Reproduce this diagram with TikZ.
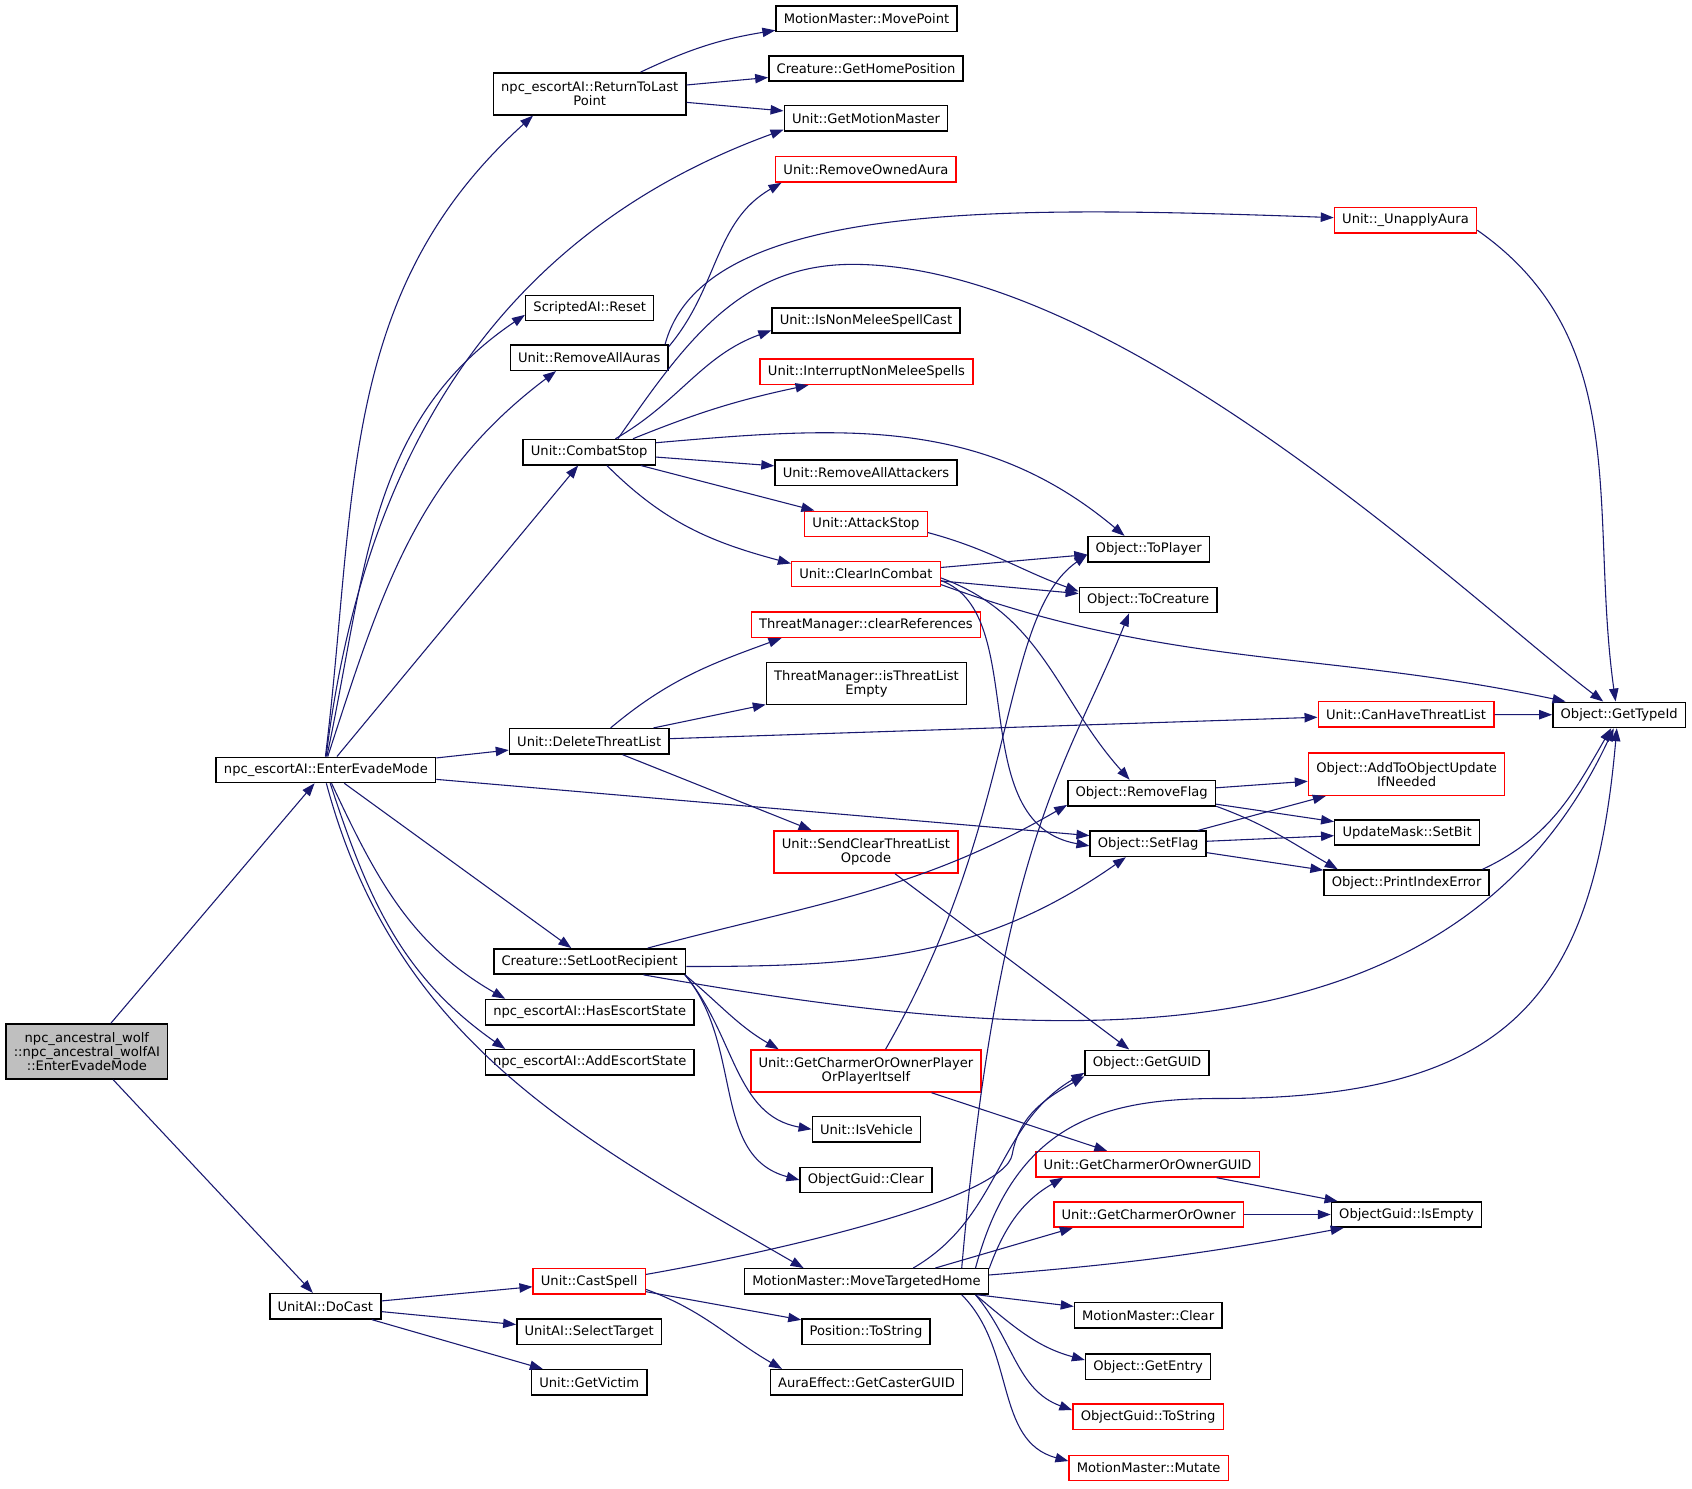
\documentclass[tikz,border=0pt]{standalone}
\usepackage{fontspec}
\newfontfamily\dgfont{DejaVu Sans}
\usetikzlibrary{arrows.meta}
\definecolor{edgeblue}{HTML}{191970}
\definecolor{rootgray}{HTML}{BFBFBF}
\tikzset{
  fn/.style={draw=black, line width=1pt, fill=white, inner xsep=5.4pt, inner ysep=2pt,
    minimum height=17.6pt, align=center, font=\dgfont\fontsize{9.1}{9.8}\selectfont},
  fnred/.style={fn, draw=red},
  fntwo/.style={minimum height=29.25pt},
  fnroot/.style={fn, fill=rootgray, minimum height=38.25pt},
  call/.style={draw=edgeblue, line width=0.75pt, -{Triangle[length=9pt,width=6.5pt]}},
}
\begin{document}
\begin{tikzpicture}[x=0.75pt,y=0.75pt]
  \useasboundingbox[fill=white] (0,0) rectangle (1568,1379);
  \node [fnroot] (root) at (80.5,404.5) {npc\_ancestral\_wolf\\::npc\_ancestral\_wolfAI\\::EnterEvadeMode};
  \node [fn] (eem) at (302,665.5) {npc\_escortAI::EnterEvadeMode};
  \node [fn] (docast) at (301.5,168.5) {UnitAI::DoCast};
  \node [fn,fntwo] (rtlp) at (546.5,1292) {npc\_escortAI::ReturnToLast\\Point};
  \node [fn] (reset) at (546.5,1093.5) {ScriptedAI::Reset};
  \node [fn] (raa) at (546,1047.5) {Unit::RemoveAllAuras};
  \node [fn] (cstop) at (546,960) {Unit::CombatStop};
  \node [fn] (dtl) at (546,692) {Unit::DeleteThreatList};
  \node [fn] (slr) at (546.5,488) {Creature::SetLootRecipient};
  \node [fn] (hes) at (546.5,441) {npc\_escortAI::HasEscortState};
  \node [fn] (aes) at (546.5,394.5) {npc\_escortAI::AddEscortState};
  \node [fnred] (cspell) at (546,191.5) {Unit::CastSpell};
  \node [fn] (seltgt) at (546,145) {UnitAI::SelectTarget};
  \node [fn] (getvic) at (546,98) {Unit::GetVictim};
  \node [fn] (movept) at (803,1361.5) {MotionMaster::MovePoint};
  \node [fn] (homepos) at (802.5,1315.5) {Creature::GetHomePosition};
  \node [fn] (getmm) at (802.5,1269.5) {Unit::GetMotionMaster};
  \node [fnred] (rmowned) at (802.5,1222) {Unit::RemoveOwnedAura};
  \node [fn] (nonmelee) at (802.5,1082) {Unit::IsNonMeleeSpellCast};
  \node [fnred] (interrupt) at (803,1034.5) {Unit::InterruptNonMeleeSpells};
  \node [fn] (rmattack) at (802.5,941) {Unit::RemoveAllAttackers};
  \node [fnred] (atkstop) at (802.5,893.5) {Unit::AttackStop};
  \node [fnred] (clrcombat) at (802.5,847) {Unit::ClearInCombat};
  \node [fnred] (clrref) at (802.5,800) {ThreatManager::clearReferences};
  \node [fn,fntwo] (tlempty) at (803,745.5) {ThreatManager::isThreatList\\Empty};
  \node [fnred,fntwo] (sctlo) at (802.5,589.5) {Unit::SendClearThreatList\\Opcode};
  \node [fnred,fntwo] (gcoopopi) at (802.5,386.5) {Unit::GetCharmerOrOwnerPlayer\\OrPlayerItself};
  \node [fn] (isveh) at (803,332.5) {Unit::IsVehicle};
  \node [fn] (ogclear) at (802.5,285.5) {ObjectGuid::Clear};
  \node [fn] (mth) at (803,191.5) {MotionMaster::MoveTargetedHome};
  \node [fn] (posstr) at (802.5,145) {Position::ToString};
  \node [fn] (castguid) at (803,98) {AuraEffect::GetCasterGUID};
  \node [fn] (toplayer) at (1064.5,870) {Object::ToPlayer};
  \node [fn] (tocreature) at (1064,823) {Object::ToCreature};
  \node [fn] (rmflag) at (1058,644) {Object::RemoveFlag};
  \node [fn] (setflag) at (1064,597) {Object::SetFlag};
  \node [fn] (getguid) at (1063,394) {Object::GetGUID};
  \node [fnred] (gcooguid) at (1063.5,300) {Unit::GetCharmerOrOwnerGUID};
  \node [fnred] (gcoo) at (1064.5,253.5) {Unit::GetCharmerOrOwner};
  \node [fn] (mmclear) at (1064,160) {MotionMaster::Clear};
  \node [fn] (getentry) at (1064,112.5) {Object::GetEntry};
  \node [fnred] (ogtostr) at (1064,66) {ObjectGuid::ToString};
  \node [fnred] (mutate) at (1064.5,18.5) {MotionMaster::Mutate};
  \node [fnred] (unapply) at (1302.5,1175) {Unit::\_UnapplyAura};
  \node [fnred] (canhave) at (1303,717) {Unit::CanHaveThreatList};
  \node [fnred,fntwo] (atou) at (1303.5,661.5) {Object::AddToObjectUpdate\\IfNeeded};
  \node [fn] (setbit) at (1304,607.5) {UpdateMask::SetBit};
  \node [fn] (pie) at (1303.5,561) {Object::PrintIndexError};
  \node [fn] (isempty) at (1303.5,253.5) {ObjectGuid::IsEmpty};
  \node [fn] (gettypeid) at (1500.5,716.5) {Object::GetTypeId};
  \draw [call] (root) -- (eem);
  \draw [call] (root) -- (docast);
  \draw [call] (eem.92) to[out=83,in=-138] (rtlp.-159);
  \draw [call] (eem.89) to[out=83,in=-160] (getmm.-172);
  \draw [call] (eem.86) to[out=78,in=-146] (reset.-174);
  \draw [call] (eem.82) to[out=72,in=-143] (raa.-158);
  \draw [call] (eem) -- (cstop);
  \draw [call] (eem) -- (dtl);
  \draw [call] (eem) -- (setflag.172);
  \draw [call] (eem) -- (slr);
  \draw [call] (eem.-67) to[out=-65,in=150] (hes.171);
  \draw [call] (eem.-72) to[out=-72,in=145] (aes.171);
  \draw [call] (eem.-88) to[out=-75,in=150] (mth.168);
  \draw [call] (rtlp) to[bend left=8] (movept);
  \draw [call] (rtlp) -- (homepos);
  \draw [call] (rtlp) -- (getmm);
  \draw [call] (raa.8) to[out=50,in=-150] (rmowned.-171);
  \draw [call] (raa.10) to[out=75,in=178,out distance=105pt,in distance=225pt] (unapply.178);
  \draw [call] (unapply.-8) to[out=-35,in=98] (gettypeid.105);
  \draw [call] (cstop.27) to[out=30,in=-160] (nonmelee.-174);
  \draw [call] (cstop.17) to[bend left=5] (interrupt.-167);
  \draw [call] (cstop.25) to[out=55,in=180] (790,1134) to[out=0,in=143,out distance=187pt,in distance=112pt] (gettypeid.140);
  \draw [call] (cstop.8) to[out=5,in=140] (toplayer.151);
  \draw [call] (cstop) -- (rmattack);
  \draw [call] (cstop) -- (atkstop);
  \draw [call] (cstop.-37) to[out=-45,in=165] (clrcombat.172);
  \draw [call] (atkstop.-8) to[out=-15,in=160] (tocreature.173);
  \draw [call] (clrcombat) -- (toplayer);
  \draw [call] (clrcombat) -- (tocreature);
  \draw [call] (clrcombat.-8) to[out=-20,in=168] (gettypeid.166);
  \draw [call] (clrcombat.-3) to[out=-20,in=132] (rmflag.132);
  \draw [call] (clrcombat.-5) to[out=-20,in=170,out distance=67pt,in distance=90pt] (setflag.-178);
  \draw [call] (dtl.32) to[out=40,in=-160] (clrref.-171);
  \draw [call] (dtl) -- (tlempty);
  \draw [call] (dtl) -- (canhave);
  \draw [call] (dtl) -- (sctlo);
  \draw [call] (canhave) -- (gettypeid);
  \draw [call] (sctlo) -- (getguid);
  \draw [call] (rmflag) -- (atou);
  \draw [call] (rmflag) -- (setbit);
  \draw [call] (rmflag.-10) to[out=-20,in=150] (pie.169);
  \draw [call] (setflag) -- (atou);
  \draw [call] (setflag) -- (setbit);
  \draw [call] (setflag) -- (pie);
  \draw [call] (pie.10) to[out=25,in=-120] (gettypeid.-121);
  \draw [call] (slr.13) to[out=15,in=-150] (rmflag.-171);
  \draw [call] (slr.-3) to[out=0,in=-145] (setflag.-149);
  \draw [call] (slr.-14) to[out=-10,in=-115] (gettypeid.-112);
  \draw [call] (slr.-8.2) to[out=-40,in=150] (gcoopopi.166);
  \draw [call] (slr.-8.5) to[out=-50,in=170] (isveh.west);
  \draw [call] (slr.-8.8) to[out=-50,in=165] (ogclear.west);
  \draw [call] (gcoopopi.48) to[out=60,in=-145,out distance=187pt,in distance=75pt] (toplayer.-175);
  \draw [call] (gcoopopi) -- (gcooguid);
  \draw [call] (mth.16) to[out=30,in=-150] (getguid.-171);
  \draw [call] (mth.11.6) -- (gcoo.-170);
  \draw [call] (mth.8) to[out=85,in=-112,out distance=300pt,in distance=112pt] (tocreature.-145);
  \draw [call] (mth.7) to[out=75,in=180,out distance=105pt] (1130,361) to[out=0,in=-95,out distance=202pt,in distance=187pt] (gettypeid.-100);
  \draw [call] (mth.6.4) to[out=70,in=-150] (gcooguid.-171);
  \draw [call] (mth.3) to[bend right=3] (isempty.-168);
  \draw [call] (mth) -- (mmclear);
  \draw [call] (mth.-7) to[out=-40,in=165] (getentry.174);
  \draw [call] (mth.-7.5) to[out=-50,in=160] (ogtostr.175);
  \draw [call] (mth.-8) to[out=-45,in=165] (mutate.175);
  \draw [call] (gcooguid) -- (isempty);
  \draw [call] (gcoo) -- (isempty);
  \draw [call] (docast) -- (cspell);
  \draw [call] (docast) -- (seltgt);
  \draw [call] (docast) -- (getvic);
  \draw [call] (cspell.7) to[out=10,in=-100,in distance=30pt] (938,309) to[out=80,in=-150] (getguid.-168);
  \draw [call] (cspell) -- (posstr);
  \draw [call] (cspell.-8) to[out=-20,in=150] (castguid.171);
\end{tikzpicture}
\end{document}
